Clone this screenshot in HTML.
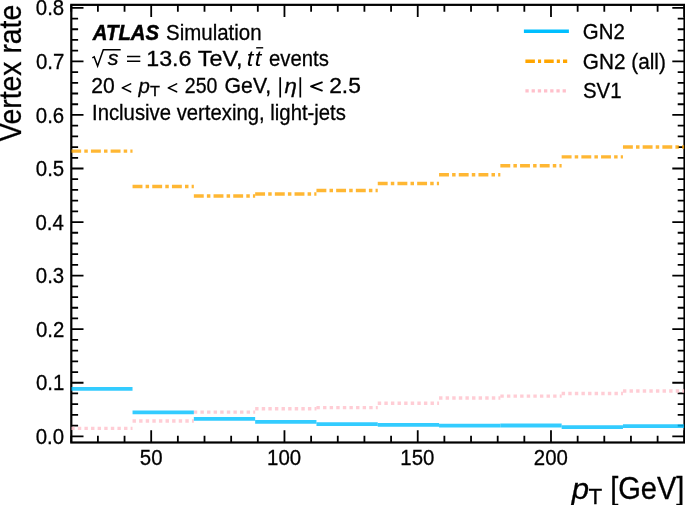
<!DOCTYPE html>
<html><head><meta charset="utf-8"><title>Vertex rate vs pT</title><style>
html,body{margin:0;padding:0;background:#fff;overflow:hidden;}
svg{display:block;will-change:transform;}
text{font-family:"Liberation Sans",sans-serif;fill:#000;stroke:#000;stroke-width:0.3px;font-kerning:normal;white-space:pre;}
</style></head><body>
<svg width="685" height="505" viewBox="0 0 685 505">
<defs><clipPath id="ax"><rect x="71.30" y="4.85" width="613.20" height="437.65"/></clipPath></defs>
<path d="M71.30 436.30h12.2M684.50 436.30h-12.2M71.30 425.59h6.8M684.50 425.59h-6.8M71.30 414.88h6.8M684.50 414.88h-6.8M71.30 404.16h6.8M684.50 404.16h-6.8M71.30 393.45h6.8M684.50 393.45h-6.8M71.30 382.74h12.2M684.50 382.74h-12.2M71.30 372.03h6.8M684.50 372.03h-6.8M71.30 361.32h6.8M684.50 361.32h-6.8M71.30 350.60h6.8M684.50 350.60h-6.8M71.30 339.89h6.8M684.50 339.89h-6.8M71.30 329.18h12.2M684.50 329.18h-12.2M71.30 318.47h6.8M684.50 318.47h-6.8M71.30 307.76h6.8M684.50 307.76h-6.8M71.30 297.04h6.8M684.50 297.04h-6.8M71.30 286.33h6.8M684.50 286.33h-6.8M71.30 275.62h12.2M684.50 275.62h-12.2M71.30 264.91h6.8M684.50 264.91h-6.8M71.30 254.20h6.8M684.50 254.20h-6.8M71.30 243.48h6.8M684.50 243.48h-6.8M71.30 232.77h6.8M684.50 232.77h-6.8M71.30 222.06h12.2M684.50 222.06h-12.2M71.30 211.35h6.8M684.50 211.35h-6.8M71.30 200.64h6.8M684.50 200.64h-6.8M71.30 189.92h6.8M684.50 189.92h-6.8M71.30 179.21h6.8M684.50 179.21h-6.8M71.30 168.50h12.2M684.50 168.50h-12.2M71.30 157.79h6.8M684.50 157.79h-6.8M71.30 147.08h6.8M684.50 147.08h-6.8M71.30 136.36h6.8M684.50 136.36h-6.8M71.30 125.65h6.8M684.50 125.65h-6.8M71.30 114.94h12.2M684.50 114.94h-12.2M71.30 104.23h6.8M684.50 104.23h-6.8M71.30 93.52h6.8M684.50 93.52h-6.8M71.30 82.80h6.8M684.50 82.80h-6.8M71.30 72.09h6.8M684.50 72.09h-6.8M71.30 61.38h12.2M684.50 61.38h-12.2M71.30 50.67h6.8M684.50 50.67h-6.8M71.30 39.96h6.8M684.50 39.96h-6.8M71.30 29.24h6.8M684.50 29.24h-6.8M71.30 18.53h6.8M684.50 18.53h-6.8M71.30 7.82h12.2M684.50 7.82h-12.2M71.24 442.50v-6.8M71.24 4.85v6.8M97.89 442.50v-6.8M97.89 4.85v6.8M124.55 442.50v-6.8M124.55 4.85v6.8M151.20 442.50v-12.2M151.20 4.85v12.2M177.85 442.50v-6.8M177.85 4.85v6.8M204.51 442.50v-6.8M204.51 4.85v6.8M231.16 442.50v-6.8M231.16 4.85v6.8M257.81 442.50v-6.8M257.81 4.85v6.8M284.46 442.50v-12.2M284.46 4.85v12.2M311.12 442.50v-6.8M311.12 4.85v6.8M337.77 442.50v-6.8M337.77 4.85v6.8M364.42 442.50v-6.8M364.42 4.85v6.8M391.08 442.50v-6.8M391.08 4.85v6.8M417.73 442.50v-12.2M417.73 4.85v12.2M444.38 442.50v-6.8M444.38 4.85v6.8M471.04 442.50v-6.8M471.04 4.85v6.8M497.69 442.50v-6.8M497.69 4.85v6.8M524.34 442.50v-6.8M524.34 4.85v6.8M550.99 442.50v-12.2M550.99 4.85v12.2M577.65 442.50v-6.8M577.65 4.85v6.8M604.30 442.50v-6.8M604.30 4.85v6.8M630.95 442.50v-6.8M630.95 4.85v6.8M657.61 442.50v-6.8M657.61 4.85v6.8M684.26 442.50v-12.2M684.26 4.85v12.2" stroke="#000" stroke-width="1.8" fill="none"/>
<rect x="71.30" y="4.85" width="613.20" height="437.65" stroke="#000" stroke-width="2.2" fill="none"/>
<g clip-path="url(#ax)" stroke="#ffc0cb" stroke-opacity="0.8" stroke-width="3.4" fill="none" stroke-dasharray="3.4 3.2">
<line x1="71.24" y1="428.40" x2="132.54" y2="428.40"/>
<line x1="132.54" y1="421.00" x2="193.84" y2="421.00"/>
<line x1="193.84" y1="412.10" x2="255.15" y2="412.10"/>
<line x1="255.15" y1="408.80" x2="316.45" y2="408.80"/>
<line x1="316.45" y1="407.60" x2="377.75" y2="407.60"/>
<line x1="377.75" y1="403.30" x2="439.05" y2="403.30"/>
<line x1="439.05" y1="398.00" x2="500.35" y2="398.00"/>
<line x1="500.35" y1="396.10" x2="561.66" y2="396.10"/>
<line x1="561.66" y1="393.50" x2="622.96" y2="393.50"/>
<line x1="622.96" y1="391.00" x2="684.26" y2="391.00"/>
</g>
<g clip-path="url(#ax)" stroke="#ffa500" stroke-opacity="0.8" stroke-width="3.4" fill="none" stroke-dasharray="9.9 3.15 3.5 3.15">
<line x1="71.24" y1="151.15" x2="132.54" y2="151.15"/>
<line x1="132.54" y1="186.45" x2="193.84" y2="186.45"/>
<line x1="193.84" y1="195.95" x2="255.15" y2="195.95"/>
<line x1="255.15" y1="193.95" x2="316.45" y2="193.95"/>
<line x1="316.45" y1="190.55" x2="377.75" y2="190.55"/>
<line x1="377.75" y1="183.55" x2="439.05" y2="183.55"/>
<line x1="439.05" y1="174.75" x2="500.35" y2="174.75"/>
<line x1="500.35" y1="165.75" x2="561.66" y2="165.75"/>
<line x1="561.66" y1="156.85" x2="622.96" y2="156.85"/>
<line x1="622.96" y1="147.05" x2="684.26" y2="147.05"/>
</g>
<g clip-path="url(#ax)" stroke="#00bfff" stroke-opacity="0.8" stroke-width="3.8" fill="none">
<line x1="71.24" y1="388.90" x2="132.54" y2="388.90"/>
<line x1="132.54" y1="412.40" x2="193.84" y2="412.40"/>
<line x1="193.84" y1="418.90" x2="255.15" y2="418.90"/>
<line x1="255.15" y1="421.90" x2="316.45" y2="421.90"/>
<line x1="316.45" y1="424.20" x2="377.75" y2="424.20"/>
<line x1="377.75" y1="424.90" x2="439.05" y2="424.90"/>
<line x1="439.05" y1="425.70" x2="500.35" y2="425.70"/>
<line x1="500.35" y1="425.50" x2="561.66" y2="425.50"/>
<line x1="561.66" y1="427.20" x2="622.96" y2="427.20"/>
<line x1="622.96" y1="426.10" x2="684.26" y2="426.10"/>
</g>
<text x="35.74" y="443.90" font-size="21.42" textLength="28.36" lengthAdjust="spacingAndGlyphs">0.0</text>
<text x="35.94" y="390.34" font-size="21.42" textLength="28.36" lengthAdjust="spacingAndGlyphs">0.1</text>
<text x="35.97" y="336.78" font-size="21.42" textLength="28.36" lengthAdjust="spacingAndGlyphs">0.2</text>
<text x="35.84" y="283.22" font-size="21.42" textLength="28.36" lengthAdjust="spacingAndGlyphs">0.3</text>
<text x="35.54" y="229.66" font-size="21.42" textLength="28.36" lengthAdjust="spacingAndGlyphs">0.4</text>
<text x="35.80" y="176.10" font-size="21.42" textLength="28.36" lengthAdjust="spacingAndGlyphs">0.5</text>
<text x="35.84" y="122.54" font-size="21.42" textLength="28.36" lengthAdjust="spacingAndGlyphs">0.6</text>
<text x="35.97" y="68.98" font-size="21.42" textLength="28.36" lengthAdjust="spacingAndGlyphs">0.7</text>
<text x="35.83" y="15.42" font-size="21.42" textLength="28.36" lengthAdjust="spacingAndGlyphs">0.8</text>
<text x="139.84" y="465.00" font-size="21.42" textLength="22.69" lengthAdjust="spacingAndGlyphs">50</text>
<text x="267.07" y="465.00" font-size="21.42" textLength="34.04" lengthAdjust="spacingAndGlyphs">100</text>
<text x="400.33" y="465.00" font-size="21.42" textLength="34.04" lengthAdjust="spacingAndGlyphs">150</text>
<text x="533.86" y="465.00" font-size="21.42" textLength="34.04" lengthAdjust="spacingAndGlyphs">200</text>
<g transform="translate(21.3,141.7) rotate(-90)"><text x="-0.12" y="0.00" font-size="30.49" textLength="137.07" lengthAdjust="spacingAndGlyphs">Vertex rate</text></g>
<text x="610.13" y="498.90" font-size="30.60" textLength="74.24" lengthAdjust="spacingAndGlyphs">[GeV]</text>
<text x="571.88" y="498.90" font-size="29.74" font-style="italic" textLength="17.33" lengthAdjust="spacingAndGlyphs">p</text>
<text x="588.60" y="503.50" font-size="21.22" textLength="13.72" lengthAdjust="spacingAndGlyphs">T</text>
<text x="92.81" y="39.90" font-size="21.42" font-weight="bold" font-style="italic" style="stroke-width:0.5px" textLength="66.30" lengthAdjust="spacingAndGlyphs">ATLAS</text>
<text x="166.07" y="39.90" font-size="21.42" textLength="95.46" lengthAdjust="spacingAndGlyphs">Simulation</text>
<path d="M92.3 57.9L94.2 56.9L97.6 66.0L103.3 49.7H120.7" stroke="#000" stroke-width="1.5" fill="none" stroke-linejoin="miter"/>
<text x="107.85" y="64.70" font-size="19.73" font-style="italic" textLength="10.69" lengthAdjust="spacingAndGlyphs">s</text>
<path d="M127.0 56.5H140.3M127.0 61.2H140.3" stroke="#000" stroke-width="1.6"/>
<text x="146.23" y="65.80" font-size="21.22" textLength="45.19" lengthAdjust="spacingAndGlyphs">13.6</text>
<text x="197.82" y="65.80" font-size="21.42" textLength="44.78" lengthAdjust="spacingAndGlyphs">TeV,</text>
<text x="246.85" y="65.80" font-size="21.22" font-style="italic" style="stroke-width:0" textLength="6.60" lengthAdjust="spacingAndGlyphs">t</text>
<text x="254.85" y="65.80" font-size="21.22" font-style="italic" style="stroke-width:0" textLength="6.60" lengthAdjust="spacingAndGlyphs">t</text>
<path d="M256.2 47.8H263.2" stroke="#000" stroke-width="1.4"/>
<text x="268.94" y="65.80" font-size="21.42" textLength="59.90" lengthAdjust="spacingAndGlyphs">events</text>
<text x="91.34" y="92.70" font-size="21.42" textLength="23.49" lengthAdjust="spacingAndGlyphs">20</text>
<path d="M130.6 83.9L122.3 87.9L130.6 91.8M176.6 83.9L168.3 87.9L176.6 91.8" stroke="#000" stroke-width="1.6" fill="none" stroke-linecap="round" stroke-linejoin="round"/>
<text x="138.61" y="92.70" font-size="20.16" font-style="italic" textLength="11.35" lengthAdjust="spacingAndGlyphs">p</text>
<text x="149.93" y="96.00" font-size="14.87" textLength="9.94" lengthAdjust="spacingAndGlyphs">T</text>
<text x="184.82" y="92.70" font-size="21.42" textLength="32.54" lengthAdjust="spacingAndGlyphs">250</text>
<text x="224.57" y="92.70" font-size="21.42" textLength="46.49" lengthAdjust="spacingAndGlyphs">GeV,</text>
<path d="M280.2 77.3V97.6M300.3 77.3V97.6" stroke="#000" stroke-width="1.7"/>
<text x="284.61" y="92.70" font-size="19.94" font-style="italic" textLength="12.40" lengthAdjust="spacingAndGlyphs">η</text>
<path d="M322.6 82.1L311.0 86.45L322.6 90.8" stroke="#000" stroke-width="1.9" fill="none" stroke-linejoin="round"/>
<text x="329.15" y="92.70" font-size="21.22" textLength="31.70" lengthAdjust="spacingAndGlyphs">2.5</text>
<text x="92.03" y="120.00" font-size="21.42" textLength="253.91" lengthAdjust="spacingAndGlyphs">Inclusive vertexing, light-jets</text>
<line x1="523.9" y1="31.2" x2="568.9" y2="31.2" stroke="#00bfff" stroke-width="3.6"/>
<line x1="525.4" y1="61.2" x2="567.2" y2="61.2" stroke="#ffa500" stroke-width="3.4" stroke-dasharray="9.5 3.1 3.1 3.1"/>
<line x1="525.4" y1="90.9" x2="567.2" y2="90.9" stroke="#ffc0cb" stroke-width="3.4" stroke-dasharray="3.3 2.9"/>
<text x="582.87" y="39.20" font-size="21.42" textLength="41.95" lengthAdjust="spacingAndGlyphs">GN2</text>
<text x="582.86" y="68.50" font-size="21.42" textLength="82.93" lengthAdjust="spacingAndGlyphs">GN2 (all)</text>
<text x="582.97" y="97.80" font-size="21.42" textLength="38.56" lengthAdjust="spacingAndGlyphs">SV1</text>
</svg>
</body></html>
